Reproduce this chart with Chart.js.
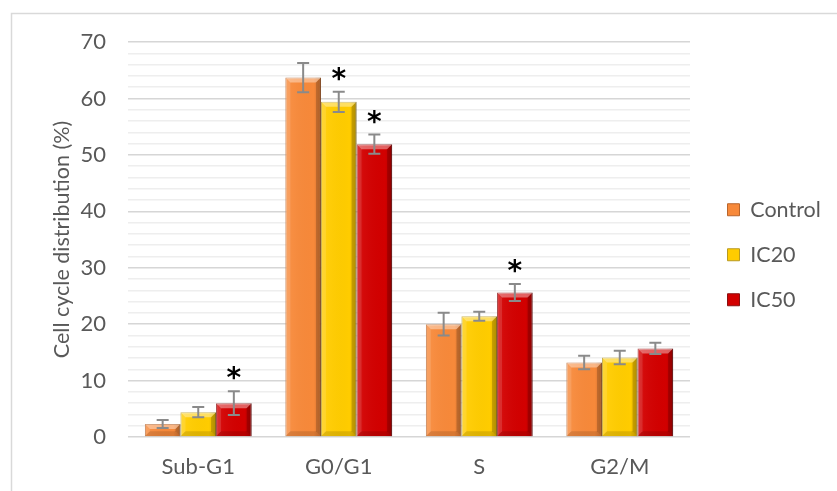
<!DOCTYPE html>
<html>
<head>
<meta charset="utf-8">
<script src="https://cdn.jsdelivr.net/npm/chart.js@4/dist/chart.umd.min.js"></script>
<style>
  html, body { margin: 0; padding: 0; background: #ffffff; }
  #wrap { position: relative; width: 837px; height: 491px; }
</style>
</head>
<body>
<div id="wrap"><canvas id="c" width="837" height="491"></canvas></div>
<script>
// Cell cycle phases
const categories = ['Sub-G1', 'G0/G1', 'S', 'G2/M'];

// Mean percentages per treatment
const controlValues = [2.3, 63.7, 20.0, 13.2];
const ic20Values    = [4.4, 59.4, 21.4, 14.1];
const ic50Values    = [6.0, 51.9, 25.6, 15.7];

// Error bar half-lengths
const controlErrors = [0.7, 2.6, 2.0, 1.2];
const ic20Errors    = [0.9, 1.8, 0.8, 1.2];
const ic50Errors    = [2.1, 1.7, 1.5, 1.0];

// Significance markers (*) per bar
const controlSig = [false, false, false, false];
const ic20Sig    = [false, true,  false, false];
const ic50Sig    = [true,  true,  true,  false];

// Y axis range and tick spacing
const yMin = 0, yMax = 70, yMajorStep = 10, yMinorStep = 2;

const FONT = 'Lato, "Open Sans", sans-serif';
const TEXT = '#595959';

// Office-style bevel shading on each bar
const bevelBars = {
  id: 'bevelBars',
  afterDatasetsDraw(chart) {
    const ctx = chart.ctx;
    chart.data.datasets.forEach((ds, di) => {
      const meta = chart.getDatasetMeta(di);
      if (meta.hidden) return;
      meta.data.forEach(bar => {
        const {x, y, base, width} = bar.getProps(['x', 'y', 'base', 'width'], true);
        const l = x - width / 2, r = x + width / 2, h = base - y;
        const b = Math.min(5, h / 2, width / 4);
        ctx.save();
        const g = ctx.createLinearGradient(l, 0, r, 0);
        g.addColorStop(0, 'rgba(255,255,255,0.10)');
        g.addColorStop(0.2, 'rgba(255,255,255,0.04)');
        g.addColorStop(0.8, 'rgba(0,0,0,0.0)');
        g.addColorStop(1, 'rgba(0,0,0,0.16)');
        ctx.fillStyle = g;
        ctx.fillRect(l, y, width, h);
        // top bevel
        ctx.beginPath();
        ctx.moveTo(l, y); ctx.lineTo(r, y); ctx.lineTo(r - b, y + b); ctx.lineTo(l + b, y + b);
        ctx.closePath();
        ctx.fillStyle = 'rgba(255,255,255,0.38)';
        ctx.fill();
        // left bevel
        ctx.beginPath();
        ctx.moveTo(l, y); ctx.lineTo(l + b, y + b); ctx.lineTo(l + b, base - b); ctx.lineTo(l, base);
        ctx.closePath();
        ctx.fillStyle = 'rgba(255,255,255,0.12)';
        ctx.fill();
        // right bevel
        ctx.beginPath();
        ctx.moveTo(r, y); ctx.lineTo(r - b, y + b); ctx.lineTo(r - b, base - b); ctx.lineTo(r, base);
        ctx.closePath();
        ctx.fillStyle = 'rgba(0,0,0,0.18)';
        ctx.fill();
        // bottom bevel
        ctx.beginPath();
        ctx.moveTo(l, base); ctx.lineTo(l + b, base - b); ctx.lineTo(r - b, base - b); ctx.lineTo(r, base);
        ctx.closePath();
        ctx.fillStyle = 'rgba(0,0,0,0.12)';
        ctx.fill();
        ctx.restore();
      });
    });
  }
};

// Error bars and significance asterisks
const errorMarks = {
  id: 'errorMarks',
  afterDatasetsDraw(chart) {
    const ctx = chart.ctx;
    const yScale = chart.scales.y;
    chart.data.datasets.forEach((ds, di) => {
      const meta = chart.getDatasetMeta(di);
      if (meta.hidden) return;
      meta.data.forEach((bar, i) => {
        const x = bar.x;
        const v = ds.data[i];
        const e = ds.errors[i];
        const yTop = yScale.getPixelForValue(v + e);
        const yBot = yScale.getPixelForValue(v - e);
        ctx.save();
        ctx.strokeStyle = '#8a8a8a';
        ctx.lineWidth = 2;
        ctx.beginPath();
        ctx.moveTo(x, yTop); ctx.lineTo(x, yBot);
        ctx.moveTo(x - 6, yTop); ctx.lineTo(x + 6, yTop);
        ctx.moveTo(x - 6, yBot); ctx.lineTo(x + 6, yBot);
        ctx.stroke();
        if (ds.significant[i]) {
          ctx.fillStyle = '#000000';
          ctx.font = 'bold 28px "DejaVu Sans", sans-serif';
          ctx.textAlign = 'center';
          ctx.textBaseline = 'alphabetic';
          ctx.fillText('*', x, yTop - 4);
        }
        ctx.restore();
      });
    });
  }
};

// Light frame around the chart
const frame = {
  id: 'frame',
  beforeDraw(chart) {
    const ctx = chart.ctx;
    ctx.save();
    ctx.strokeStyle = '#d9d9d9';
    ctx.lineWidth = 1.5;
    ctx.strokeRect(11.5, 13.5, 840, 500);
    ctx.restore();
  }
};

// Place the legend a little away from the plot, near the vertical middle
const legendPlace = {
  id: 'legendPlace',
  afterLayout(chart) {
    const lg = chart.legend;
    if (!lg) return;
    const w = lg.right - lg.left;
    lg.left = chart.chartArea.right + 14;
    lg.right = lg.left + w + 40;
    lg.top = chart.chartArea.top + 133.5;
    lg.bottom = lg.top + 250;
  }
};

new Chart(document.getElementById('c'), {
  type: 'bar',
  data: {
    labels: categories,
    datasets: [
      { label: 'Control', data: controlValues, errors: controlErrors, significant: controlSig,
        backgroundColor: '#F7893A', borderColor: '#B8652C', borderWidth: 1 },
      { label: 'IC20', data: ic20Values, errors: ic20Errors, significant: ic20Sig,
        backgroundColor: '#FFCC00', borderColor: '#B89A20', borderWidth: 1 },
      { label: 'IC50', data: ic50Values, errors: ic50Errors, significant: ic50Sig,
        backgroundColor: '#D20000', borderColor: '#8A1010', borderWidth: 1 }
    ]
  },
  options: {
    responsive: false,
    animation: false,
    layout: { padding: { left: 40, top: 42, right: 47, bottom: 10 } },
    datasets: { bar: { categoryPercentage: 0.76, barPercentage: 1.0 } },
    plugins: {
      tooltip: { enabled: false },
      legend: {
        position: 'right',
        align: 'start',
        maxWidth: 100,
        labels: {
          font: { family: FONT, size: 21.5 },
          color: TEXT,
          boxWidth: 12,
          boxHeight: 12,
          padding: 23.5
        }
      }
    },
    scales: {
      x: {
        grid: { display: false, drawTicks: false },
        border: { display: false },
        ticks: { font: { family: FONT, size: 22 }, color: TEXT, padding: 17 },
        afterFit(scale) { scale.height = 44; }
      },
      y: {
        min: yMin,
        max: yMax,
        grid: {
          drawTicks: false,
          color: (c) => (c.tick && c.tick.value % yMajorStep === 0) ? '#d6d6d6' : '#eeeeee',
          lineWidth: 1.5
        },
        border: { display: false },
        ticks: {
          stepSize: yMinorStep,
          autoSkip: false,
          padding: 22,
          font: { family: FONT, size: 22 },
          color: TEXT,
          callback: (v) => (v % yMajorStep === 0 ? v : '')
        },
        title: {
          display: true,
          text: 'Cell cycle distribution (%)',
          font: { family: FONT, size: 21.5 },
          color: TEXT,
          padding: { top: 9, bottom: 0 }
        },
        afterFit(scale) { scale.width = 88; }
      }
    }
  },
  plugins: [frame, legendPlace, bevelBars, errorMarks]
});
</script>
</body>
</html>
